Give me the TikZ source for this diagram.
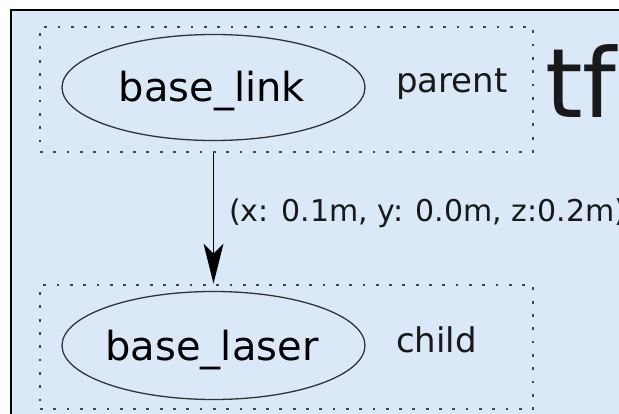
\documentclass[tikz,border=0pt]{standalone}
\usepackage{fontspec}
\setmainfont{DejaVu Sans}
\usetikzlibrary{shapes.geometric,arrows.meta}
\definecolor{bgblue}{RGB}{218,232,248}
\definecolor{dotgray}{RGB}{70,70,70}
\tikzset{
  dotbox/.style={draw=dotgray, line width=2.8pt, dash pattern=on 2.8pt off 10.5pt, rectangle, inner sep=0pt},
  frame/.style={ellipse, draw=black!80, line width=1.3pt, inner sep=0pt},
  txt/.style={anchor=base west, inner sep=0pt, text=black!90},
}
\begin{document}
\begin{tikzpicture}[x=1pt,y=1pt]
\clip (0,0) rectangle (619,413);
\fill[white] (0,0) rectangle (619,413);
\draw[fill=bgblue, line width=2.2pt, draw=black] (11,-10) rectangle (640,403);
\node[dotbox, minimum width=493pt, minimum height=125pt] (box1) at (286.5,323.5) {};
\node[dotbox, minimum width=493pt, minimum height=124pt] (box2) at (286.5,66) {};
\node[frame, minimum width=303pt, minimum height=106pt] (e1) at (213.5,325.5) {};
\node[frame, minimum width=303pt, minimum height=108pt] (e2) at (213.5,67.5) {};
\node[anchor=base, inner sep=0pt] (t1) at (212,311) {\fontsize{40}{48}\selectfont base\_link};
\node[anchor=base, inner sep=0pt] (t2) at (212,53) {\fontsize{40}{48}\selectfont base\_laser};
\node[txt] (p) at (396,320) {\fontsize{34}{40}\selectfont parent};
\node[txt] (c) at (396,61) {\fontsize{34}{40}\selectfont child};
\node[txt] (tf) at (545,295) {\fontsize{96}{110}\selectfont tf};
\draw[line width=1.3pt, -{Stealth[length=40pt, width=20pt, inset=10pt]}] (e1 |- box1.south) -- (e1 |- box2.north);
\node[txt] (lbl) at (229,191) {\fontsize{30}{36}\selectfont (x: 0.1m, y: 0.0m, z:0.2m)};
\end{tikzpicture}
\end{document}
